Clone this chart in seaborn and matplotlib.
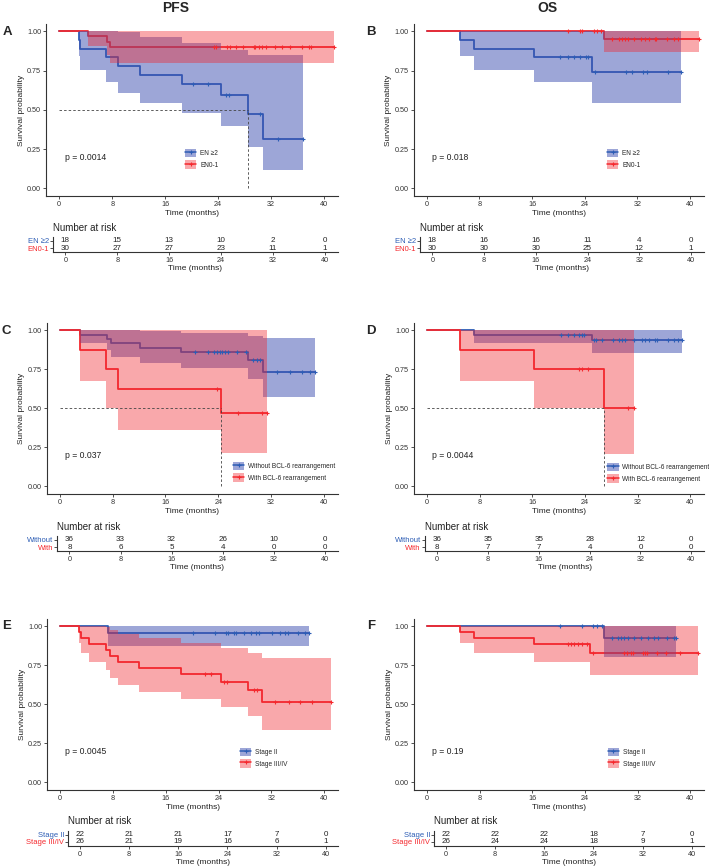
import numpy as np
import pandas as pd
import matplotlib
matplotlib.use('Agg')
import matplotlib.pyplot as plt
import seaborn as sns
from matplotlib.patches import Patch
from matplotlib.lines import Line2D
from matplotlib.legend_handler import HandlerTuple

# ---- data ----
risk_times = [0, 8, 16, 24, 32, 40]

# A: PFS by EN
a_en2_t = [0, 3.0, 3.2, 7.1, 8.8, 12.2, 18.5, 24.5, 28.5, 30.8]
a_en2_s = [1, 0.944, 0.889, 0.833, 0.778, 0.722, 0.667, 0.593, 0.474, 0.316]
a_en2_lo = [1, 0.844, 0.755, 0.678, 0.608, 0.542, 0.481, 0.400, 0.264, 0.117]
a_en2_hi = [1, 1, 1, 1, 0.996, 0.962, 0.924, 0.883, 0.850, 0.851]
a_en2_end = 36.8
a_en2_cens = [20.2, 22.5, 25.2, 25.6, 30.3, 33.0, 36.8]
a_en01_t = [0, 4.4, 7.2, 7.7]
a_en01_s = [1, 0.967, 0.933, 0.9]
a_en01_lo = [1, 0.905, 0.848, 0.798]
a_en01_hi = [1, 1, 1, 1]
a_en01_end = 41.5
a_en01_cens = [23.3, 23.6, 25.4, 25.8, 26.7, 27.8, 29.4, 29.6, 30.1, 30.6, 31.3,
               32.6, 33.7, 34.9, 36.7, 37.7, 38.0, 41.5]
a_risk_en2 = [18, 15, 13, 10, 2, 0]
a_risk_en01 = [30, 27, 27, 23, 11, 1]

# B: OS by EN
b_en2_t = [0, 5.0, 7.2, 16.3, 25.1]
b_en2_s = [1, 0.944, 0.889, 0.833, 0.741]
b_en2_lo = [1, 0.844, 0.755, 0.680, 0.545]
b_en2_hi = [1, 1, 1, 1, 1]
b_en2_end = 38.6
b_en2_cens = [20.3, 21.4, 22.4, 23.3, 24.2, 24.5, 25.5, 30.3, 31.2, 32.9, 33.5, 36.7, 38.6]
b_en01_t = [0, 26.9]
b_en01_s = [1, 0.952]
b_en01_lo = [1, 0.865]
b_en01_hi = [1, 1]
b_en01_end = 41.3
b_en01_cens = [21.4, 23.3, 23.6, 25.4, 25.9, 26.5, 28.2, 29.2, 29.6, 30.1, 30.6, 31.5,
               32.6, 33.2, 33.7, 34.6, 34.8, 36.5, 37.6, 38.2, 41.3]
b_risk_en2 = [18, 16, 16, 11, 4, 0]
b_risk_en01 = [30, 30, 30, 25, 12, 1]

# C: PFS by BCL-6
c_wo_t = [0, 3.0, 7.2, 7.7, 12.2, 18.4, 28.5, 30.8]
c_wo_s = [1, 0.972, 0.944, 0.917, 0.889, 0.861, 0.812, 0.734]
c_wo_lo = [1, 0.919, 0.872, 0.831, 0.792, 0.755, 0.686, 0.571]
c_wo_hi = [1, 1, 1, 1, 0.998, 0.982, 0.965, 0.953]
c_wo_end = 38.6
c_wo_cens = [20.4, 22.5, 23.4, 23.8, 24.3, 24.5, 25.0, 25.5, 26.8, 28.2, 29.3, 29.8,
             30.3, 32.8, 34.8, 36.6, 37.8, 38.6]
c_w_t = [0, 3.1, 7.05, 8.8, 24.4]
c_w_s = [1, 0.875, 0.75, 0.625, 0.469]
c_w_lo = [1, 0.677, 0.503, 0.364, 0.215]
c_w_hi = [1, 1, 1, 1, 1]
c_w_end = 31.3
c_w_cens = [23.8, 27.0, 30.6, 31.3]
c_risk_wo = [36, 33, 32, 26, 10, 0]
c_risk_w = [8, 6, 5, 4, 0, 0]

# D: OS by BCL-6
d_wo_t = [0, 7.2, 25.1]
d_wo_s = [1, 0.972, 0.935]
d_wo_lo = [1, 0.919, 0.855]
d_wo_hi = [1, 1, 1]
d_wo_end = 38.7
d_wo_cens = [20.4, 21.4, 22.4, 23.1, 23.5, 23.9, 25.4, 25.7, 26.6, 28.2, 29.2, 29.6,
             30.1, 31.4, 32.7, 33.1, 33.7, 34.6, 35.0, 36.6, 37.6, 38.2, 38.7]
d_w_t = [0, 5.0, 16.3, 26.9]
d_w_s = [1, 0.875, 0.75, 0.5]
d_w_lo = [1, 0.677, 0.502, 0.207]
d_w_hi = [1, 1, 1, 1]
d_w_end = 31.4
d_w_cens = [23.1, 23.6, 24.5, 30.6, 31.4]
d_risk_wo = [36, 35, 35, 28, 12, 0]
d_risk_w = [8, 7, 7, 4, 0, 0]

# E: PFS by stage
e_s2_t = [0, 7.3]
e_s2_s = [1, 0.955]
e_s2_lo = [1, 0.872]
e_s2_hi = [1, 1]
e_s2_end = 37.7
e_s2_cens = [20.1, 23.4, 25.1, 25.5, 26.4, 26.6, 27.9, 28.9, 29.7, 30.1, 32.1, 33.3,
             34.1, 34.5, 36.1, 37.1, 37.7]
e_s34_t = [0, 2.9, 3.1, 4.3, 7.0, 7.6, 8.7, 12.0, 18.3, 24.3, 28.4, 30.6]
e_s34_s = [1, 0.962, 0.923, 0.885, 0.846, 0.808, 0.769, 0.731, 0.692, 0.646, 0.592, 0.518]
e_s34_lo = [1, 0.891, 0.826, 0.770, 0.718, 0.670, 0.623, 0.579, 0.536, 0.484, 0.423, 0.338]
e_s34_hi = [1, 1, 1, 1, 0.997, 0.975, 0.949, 0.923, 0.894, 0.863, 0.829, 0.794]
e_s34_end = 41.0
e_s34_cens = [22.0, 22.9, 24.8, 25.3, 29.4, 29.9, 32.5, 34.6, 36.4, 38.1, 41.0]
e_risk_s2 = [22, 21, 21, 17, 7, 0]
e_risk_s34 = [26, 21, 19, 16, 6, 1]

# F: OS by stage
f_s2_t = [0, 26.9]
f_s2_s = [1, 0.927]
f_s2_lo = [1, 0.806]
f_s2_hi = [1, 1]
f_s2_end = 37.9
f_s2_cens = [20.3, 23.6, 25.3, 25.8, 26.6, 28.1, 29.1, 29.5, 30.0, 30.6, 31.4, 32.6,
             33.6, 34.5, 35.1, 36.5, 37.5, 37.9]
f_s34_t = [0, 5.0, 7.2, 16.3, 24.8]
f_s34_s = [1, 0.962, 0.923, 0.885, 0.827]
f_s34_lo = [1, 0.891, 0.826, 0.770, 0.686]
f_s34_hi = [1, 1, 1, 1, 1]
f_s34_end = 41.2
f_s34_cens = [21.4, 21.9, 22.4, 23.0, 23.6, 24.4, 25.3, 30.0, 30.4, 31.0, 31.3, 32.9,
              33.1, 33.5, 34.9, 36.4, 38.5, 41.2]
f_risk_s2 = [22, 22, 22, 18, 7, 0]
f_risk_s34 = [26, 24, 24, 18, 9, 1]

p_values = ['p = 0.0014', 'p = 0.018', 'p = 0.037', 'p = 0.0044', 'p = 0.0045', 'p = 0.19']

# ---- style ----
BLUE = '#2D5DB5'
RED = '#F5292E'
BLUE_BAND = '#3D4FB0'
RED_BAND = '#F0262E'
AX_COL = '#333333'

sns.set_theme(style='ticks')
plt.rcParams['font.family'] = ['Liberation Sans', 'DejaVu Sans']

W, H = 709, 868
fig = plt.figure(figsize=(W / 100, H / 100), dpi=100)


def px_box(l, t, r, b):
    return [l / W, 1 - b / H, (r - l) / W, (b - t) / H]


def km_frame(t, s, lo, hi, end):
    return pd.DataFrame({'time': list(t) + [end], 'surv': list(s) + [s[-1]],
                         'lo': list(lo) + [lo[-1]], 'hi': list(hi) + [hi[-1]]})


def draw_km(ax, groups):
    frames = [km_frame(*g[:5]) for g in groups]
    cols = [BLUE, RED]
    for df, c in zip(frames, cols):
        sns.lineplot(data=df, x='time', y='surv', drawstyle='steps-post', estimator=None,
                     sort=False, color=c, lw=1.3, ax=ax, legend=False, zorder=2)
    for df, c, a, z in zip(frames, [BLUE_BAND, RED_BAND], [0.5, 0.4], [3, 3.1]):
        ax.fill_between(df['time'], df['lo'], df['hi'], step='post', color=c,
                        alpha=a, lw=0, zorder=z)
    for g, c in zip(groups, cols):
        t, s, cens = np.array(g[0]), np.array(g[1]), np.array(g[5])
        cs = s[np.searchsorted(t, cens, side='right') - 1]
        ax.plot(cens, cs, ls='none', marker='+', ms=3.5, mew=0.8, color=c, zorder=4)
    # median line
    s_top = np.array(groups[0][1]); s_bot = np.array(groups[1][1])
    for t, s in [(groups[0][0], s_top), (groups[1][0], s_bot)]:
        hit = np.where(s <= 0.5)[0]
        if len(hit):
            med = t[hit[0]]
            ax.plot([0, med], [0.5, 0.5], ls=(0, (3, 2.5)), color='#444444', lw=0.6, zorder=5)
            ax.plot([med, med], [0, 0.5], ls=(0, (3, 2.5)), color='#444444', lw=0.6, zorder=5)


def style_main(ax):
    ax.set_xlim(-2, 42.1)
    ax.set_ylim(-0.048, 1.046)
    ax.set_xticks(risk_times)
    ax.set_yticks([0, 0.25, 0.5, 0.75, 1])
    ax.set_yticklabels(['0.00', '0.25', '0.50', '0.75', '1.00'])
    ax.tick_params(labelsize=5.2, length=2, width=0.6, color=AX_COL, pad=1.5, labelcolor='#333333')
    sns.despine(ax=ax)
    for sp in ['left', 'bottom']:
        ax.spines[sp].set_linewidth(0.8)
        ax.spines[sp].set_color(AX_COL)
    ax.set_xlabel('Time (months)', fontsize=6, labelpad=1.5, color='#222222')
    ax.set_ylabel('Survival probability', fontsize=6, labelpad=1.5, color='#222222')


def add_legend(ax, labels, x, y):
    handles = [(Patch(facecolor=BLUE_BAND, alpha=0.5, edgecolor='none'),
                Line2D([], [], color=BLUE, lw=1.1, marker='+', ms=3.5, mew=0.8)),
               (Patch(facecolor=RED_BAND, alpha=0.4, edgecolor='none'),
                Line2D([], [], color=RED, lw=1.1, marker='+', ms=3.5, mew=0.8))]
    ax.legend(handles, labels, loc='upper left', bbox_to_anchor=(x, y), frameon=False,
              fontsize=4.7, handlelength=1.75, handleheight=1.6, labelspacing=0.45,
              handletextpad=0.6, borderaxespad=0, borderpad=0,
              handler_map={tuple: HandlerTuple(ndivide=1)})


def draw_risk(ax, top, bot, labels):
    ax.set_xlim(-1.9, 42)
    ax.set_ylim(0.43, 2.57)
    for x, n in zip(risk_times, top):
        ax.text(x, 2, str(n), ha='center', va='center', fontsize=5.8, color='#222222')
    for x, n in zip(risk_times, bot):
        ax.text(x, 1, str(n), ha='center', va='center', fontsize=5.8, color='#222222')
    ax.set_xticks(risk_times)
    ax.set_yticks([2, 1])
    ax.set_yticklabels(labels)
    ax.tick_params(axis='x', labelsize=5.2, length=2, width=0.6, color=AX_COL, pad=1.5, labelcolor='#333333')
    ax.tick_params(axis='y', labelsize=5.5, length=2, width=0.6, color=AX_COL, pad=1)
    for lab, c in zip(ax.get_yticklabels(), [BLUE, RED]):
        lab.set_color(c)
    sns.despine(ax=ax)
    for sp in ['left', 'bottom']:
        ax.spines[sp].set_linewidth(0.8)
        ax.spines[sp].set_color(AX_COL)
    ax.set_xlabel('Time (months)', fontsize=6, labelpad=1, color='#222222')
    ax.annotate('Number at risk', xy=(0, 1), xycoords='axes fraction', xytext=(0, 6.5),
                textcoords='offset points', ha='left', va='center', fontsize=7, color='#222222')


panels = [
    dict(box=(46, 24, 338, 196), rbox=(53, 237, 338, 252),
         groups=[(a_en2_t, a_en2_s, a_en2_lo, a_en2_hi, a_en2_end, a_en2_cens),
                 (a_en01_t, a_en01_s, a_en01_lo, a_en01_hi, a_en01_end, a_en01_cens)],
         risk=(a_risk_en2, a_risk_en01), labels=['EN \u22652', 'EN0-1'],
         rlabels=['EN \u22652', 'EN0-1'], leg=(0.476, 0.273), tag='A', tagxy=(7, 32)),
    dict(box=(413.5, 24, 704, 196), rbox=(420, 237, 704, 252),
         groups=[(b_en2_t, b_en2_s, b_en2_lo, b_en2_hi, b_en2_end, b_en2_cens),
                 (b_en01_t, b_en01_s, b_en01_lo, b_en01_hi, b_en01_end, b_en01_cens)],
         risk=(b_risk_en2, b_risk_en01), labels=['EN \u22652', 'EN0-1'],
         rlabels=['EN \u22652', 'EN0-1'], leg=(0.666, 0.273), tag='B', tagxy=(371, 32)),
    dict(box=(46.5, 323, 338, 494), rbox=(57.3, 536, 337.7, 551),
         groups=[(c_wo_t, c_wo_s, c_wo_lo, c_wo_hi, c_wo_end, c_wo_cens),
                 (c_w_t, c_w_s, c_w_lo, c_w_hi, c_w_end, c_w_cens)],
         risk=(c_risk_wo, c_risk_w),
         labels=['Without BCL-6 rearrangement', 'With BCL-6 rearrangement'],
         rlabels=['Without', 'With'], leg=(0.64, 0.187), tag='C', tagxy=(6, 331)),
    dict(box=(414, 323, 704, 494), rbox=(425, 536, 704, 551),
         groups=[(d_wo_t, d_wo_s, d_wo_lo, d_wo_hi, d_wo_end, d_wo_cens),
                 (d_w_t, d_w_s, d_w_lo, d_w_hi, d_w_end, d_w_cens)],
         risk=(d_risk_wo, d_risk_w),
         labels=['Without BCL-6 rearrangement', 'With BCL-6 rearrangement'],
         rlabels=['Without', 'With'], leg=(0.666, 0.181), tag='D', tagxy=(371, 331)),
    dict(box=(47, 619, 338, 790), rbox=(68.3, 830.5, 338, 845.7),
         groups=[(e_s2_t, e_s2_s, e_s2_lo, e_s2_hi, e_s2_end, e_s2_cens),
                 (e_s34_t, e_s34_s, e_s34_lo, e_s34_hi, e_s34_end, e_s34_cens)],
         risk=(e_risk_s2, e_risk_s34), labels=['Stage II', 'Stage III/IV'],
         rlabels=['Stage II', 'Stage III/IV'], leg=(0.663, 0.246), tag='E', tagxy=(6.5, 626)),
    dict(box=(413.7, 619, 704, 790), rbox=(434.3, 830.5, 704, 845.7),
         groups=[(f_s2_t, f_s2_s, f_s2_lo, f_s2_hi, f_s2_end, f_s2_cens),
                 (f_s34_t, f_s34_s, f_s34_lo, f_s34_hi, f_s34_end, f_s34_cens)],
         risk=(f_risk_s2, f_risk_s34), labels=['Stage II', 'Stage III/IV'],
         rlabels=['Stage II', 'Stage III/IV'], leg=(0.668, 0.246), tag='F', tagxy=(371, 626)),
]

for p, pv in zip(panels, p_values):
    ax = fig.add_axes(px_box(*p['box']))
    draw_km(ax, p['groups'])
    style_main(ax)
    ax.text(0.8, 0.2, pv, fontsize=6.2, va='center', ha='left', color='#222222')
    add_legend(ax, p['labels'], *p['leg'])
    rax = fig.add_axes(px_box(*p['rbox']))
    draw_risk(rax, p['risk'][0], p['risk'][1], p['rlabels'])
    tx, ty = p['tagxy']
    fig.text(tx / W, 1 - ty / H, p['tag'], fontsize=9.5, weight='bold', ha='center', va='center')

fig.text(176 / W, 1 - 7.5 / H, 'PFS', fontsize=10, weight='bold', ha='center', va='center')
fig.text(547 / W, 1 - 7.5 / H, 'OS', fontsize=10, weight='bold', ha='center', va='center')

fig.savefig('out.png', dpi=100, facecolor='white')
